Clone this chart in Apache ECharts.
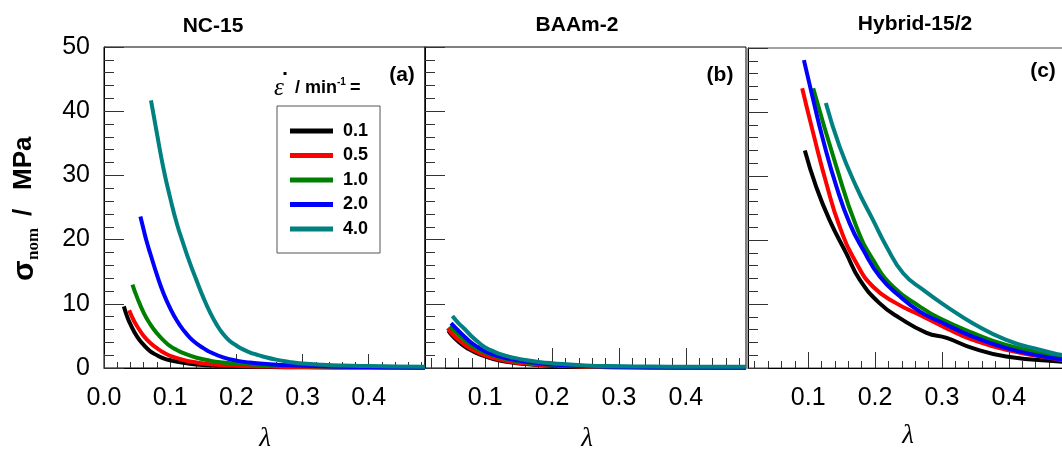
<!DOCTYPE html>
<html>
<head>
<meta charset="utf-8">
<script src="https://cdn.jsdelivr.net/npm/echarts@6/dist/echarts.min.js"></script>
<style>
html,body{margin:0;padding:0;background:#fff;}
#c{width:1062px;height:449px;}
</style>
</head>
<body>
<div id="c"></div>
<script>
// ---------- data ----------
const panelTitles = ['NC-15', 'BAAm-2', 'Hybrid-15/2'];
const panelTags = ['(a)', '(b)', '(c)'];
const rateNames = ['0.1', '0.5', '1.0', '2.0', '4.0'];
const rateColors = ['#000000', '#ff0000', '#008000', '#0000ff', '#008080'];

const xLabelsA = [0.0, 0.1, 0.2, 0.3, 0.4];
const xLabelsBC = [0.1, 0.2, 0.3, 0.4];
const xMinorTicks = [0.02,0.04,0.06,0.08,0.12,0.14,0.16,0.18,0.22,0.24,0.26,0.28,0.32,0.34,0.36,0.38,0.42,0.44,0.46,0.48];

// NC-15 (a)
const nc15_01 = [[0.030,9.6],[0.035,8.0],[0.04,6.8],[0.05,4.9],[0.06,3.6],[0.07,2.6],[0.08,2.0],[0.09,1.5],[0.10,1.2],[0.12,0.8],[0.14,0.55],[0.17,0.35],[0.20,0.25],[0.25,0.15],[0.30,0.1],[0.40,0.06],[0.485,0.04]];
const nc15_05 = [[0.038,9.0],[0.045,7.4],[0.05,6.5],[0.06,5.0],[0.07,3.9],[0.08,3.1],[0.09,2.4],[0.10,1.9],[0.12,1.25],[0.14,0.85],[0.16,0.6],[0.20,0.35],[0.25,0.22],[0.30,0.15],[0.40,0.1],[0.485,0.07]];
const nc15_10 = [[0.043,13.0],[0.05,11.0],[0.06,8.6],[0.07,6.8],[0.08,5.4],[0.09,4.3],[0.10,3.4],[0.11,2.8],[0.12,2.3],[0.14,1.6],[0.16,1.15],[0.18,0.85],[0.20,0.65],[0.24,0.45],[0.28,0.33],[0.33,0.25],[0.40,0.18],[0.485,0.12]];
const nc15_20 = [[0.055,23.6],[0.06,21.5],[0.065,19.5],[0.07,17.8],[0.08,14.5],[0.09,11.6],[0.10,9.3],[0.11,7.4],[0.12,5.9],[0.13,4.7],[0.14,3.8],[0.15,3.1],[0.16,2.5],[0.18,1.65],[0.20,1.15],[0.22,0.85],[0.25,0.6],[0.28,0.42],[0.32,0.3],[0.36,0.2],[0.40,0.15],[0.45,0.1],[0.485,0.08]];
const nc15_40 = [[0.071,41.7],[0.08,36.5],[0.09,31.0],[0.10,26.5],[0.11,22.5],[0.12,19.3],[0.13,16.3],[0.14,13.6],[0.15,11.0],[0.16,8.7],[0.17,6.8],[0.18,5.3],[0.19,4.2],[0.20,3.5],[0.21,2.9],[0.22,2.45],[0.23,2.1],[0.24,1.8],[0.26,1.3],[0.28,0.95],[0.30,0.7],[0.33,0.5],[0.36,0.38],[0.40,0.3],[0.44,0.25],[0.485,0.2]];

// BAAm-2 (b)
const baam_01 = [[0.045,5.8],[0.05,5.1],[0.06,4.1],[0.07,3.3],[0.08,2.7],[0.09,2.2],[0.10,1.8],[0.12,1.2],[0.14,0.85],[0.16,0.62],[0.18,0.45],[0.20,0.33],[0.25,0.18],[0.30,0.1],[0.40,0.05],[0.49,0.03]];
const baam_05 = [[0.044,6.2],[0.05,5.4],[0.06,4.4],[0.07,3.6],[0.08,2.9],[0.09,2.4],[0.10,1.95],[0.12,1.35],[0.14,0.95],[0.16,0.7],[0.18,0.5],[0.20,0.38],[0.25,0.2],[0.30,0.12],[0.40,0.06],[0.49,0.04]];
const baam_10 = [[0.047,6.5],[0.06,5.2],[0.07,4.3],[0.08,3.5],[0.09,2.9],[0.10,2.4],[0.12,1.7],[0.14,1.2],[0.16,0.9],[0.18,0.65],[0.20,0.5],[0.25,0.28],[0.30,0.16],[0.40,0.08],[0.49,0.06]];
const baam_20 = [[0.049,7.0],[0.06,5.8],[0.07,4.8],[0.08,3.9],[0.09,3.2],[0.10,2.6],[0.12,1.85],[0.14,1.35],[0.16,1.0],[0.18,0.75],[0.20,0.55],[0.25,0.3],[0.30,0.18],[0.40,0.1],[0.49,0.08]];
const baam_40 = [[0.051,8.1],[0.06,7.0],[0.07,6.0],[0.08,4.9],[0.09,4.0],[0.10,3.2],[0.11,2.7],[0.12,2.25],[0.14,1.65],[0.16,1.25],[0.18,0.95],[0.20,0.75],[0.25,0.4],[0.30,0.28],[0.35,0.22],[0.40,0.2],[0.49,0.18]];

// Hybrid-15/2 (c)
const hyb_01 = [[0.095,34.0],[0.112,28.3],[0.132,23.1],[0.157,17.9],[0.177,13.8],[0.207,10.1],[0.237,7.8],[0.277,5.5],[0.307,4.7],[0.346,3.1],[0.396,1.8],[0.476,1.0],[0.49,0.9]];
const hyb_05 = [[0.091,43.7],[0.1075,36.7],[0.127,28.9],[0.147,22.1],[0.172,16.4],[0.197,12.7],[0.232,10.1],[0.267,8.3],[0.307,6.2],[0.346,4.4],[0.396,2.85],[0.476,1.3],[0.49,1.15]];
const hyb_10 = [[0.1075,43.7],[0.142,31.5],[0.172,22.1],[0.197,16.9],[0.227,12.7],[0.267,9.6],[0.296,7.8],[0.346,5.5],[0.396,3.6],[0.476,1.8],[0.49,1.6]];
const hyb_20 = [[0.0936,48.1],[0.1075,41.9],[0.1224,35.6],[0.1424,28.3],[0.162,22.6],[0.182,18.5],[0.207,14.3],[0.237,11.2],[0.267,8.8],[0.296,7.3],[0.346,4.9],[0.396,3.1],[0.446,1.9],[0.476,1.4],[0.49,1.25]];
const hyb_40 = [[0.1264,41.4],[0.147,34.6],[0.172,28.3],[0.197,23.1],[0.217,19.0],[0.242,14.8],[0.272,12.2],[0.307,9.6],[0.346,7.0],[0.396,4.4],[0.446,2.85],[0.476,2.1],[0.49,1.9]];

const panelData = [
  [nc15_01, nc15_05, nc15_10, nc15_20, nc15_40],
  [baam_01, baam_05, baam_10, baam_20, baam_40],
  [hyb_01, hyb_05, hyb_10, hyb_20, hyb_40]
];

// ---------- layout / styles ----------
const SANS = "'Liberation Sans', Arial, sans-serif";
const SERIF = "'Liberation Serif', 'Times New Roman', serif";
const grids = [
  {left:104, top:47, width:321, height:321, borderColor:'#000'},
  {left:425, top:47, width:321, height:321, borderColor:'#000'},
  {left:748, top:48, width:321, height:320, borderColor:'#444'}
];
const xRanges = [[0, 0.485], [0.01, 0.49], [0.01, 0.49]];
const xMajorLen = [14, 20, 16];
const xMinorLen = [6, 10, 7];
const tickColor = '#333';

const option = {
  backgroundColor: '#fff',
  animation: false,
  grid: grids.map(g => ({left:g.left, top:g.top, width:g.width, height:g.height, show:true,
    borderColor:g.borderColor, borderWidth:1, backgroundColor:'transparent', outerBoundsMode:'none'})),
  xAxis: [],
  yAxis: [],
  series: [],
  legend: {
    show: true,
    orient: 'vertical',
    left: 277, top: 106,
    data: rateNames,
    selectedMode: false,
    icon: 'rect',
    itemWidth: 43, itemHeight: 5,
    itemGap: 4.5,
    padding: [15, 12, 14, 13],
    borderColor: '#555', borderWidth: 1,
    textStyle: {fontFamily: SANS, fontWeight: 'bold', fontSize: 18, color: '#000', lineHeight: 20, padding: [0,0,0,5]}
  },
  graphic: []
};

for (let i = 0; i < 3; i++) {
  const labels = i === 0 ? xLabelsA : xLabelsBC;
  option.xAxis.push({
    type:'value', gridIndex:i, min:xRanges[i][0], max:xRanges[i][1],
    axisLine:{show:true, onZero:false, lineStyle:{color:'#000', width:1}},
    splitLine:{show:false},
    axisTick:{show:true, inside:true, length:xMajorLen[i], customValues:labels, lineStyle:{color:tickColor}},
    axisLabel:{show:true, customValues:labels, formatter:v => v.toFixed(1), fontFamily:SANS, fontSize:25, color:'#000', margin:18}
  });
  option.xAxis.push({
    type:'value', gridIndex:i, min:xRanges[i][0], max:xRanges[i][1], position:'bottom',
    axisLine:{show:false}, splitLine:{show:false}, axisLabel:{show:false},
    axisTick:{show:true, inside:true, length:xMinorLen[i], customValues:xMinorTicks, lineStyle:{color:tickColor}}
  });
  option.yAxis.push({
    type:'value', gridIndex:i, min:0, max:50, interval:10,
    axisLine:{show:true, onZero:false, lineStyle:{color:'#000', width:1}},
    splitLine:{show:false},
    axisTick:{show:true, inside:true, length:20, lineStyle:{color:tickColor}},
    minorTick:{show:true, splitNumber:5, length:10, lineStyle:{color:tickColor}},
    axisLabel:{show:i === 0, fontFamily:SANS, fontSize:25, color:'#000', margin:14}
  });
  for (let s = 0; s < 5; s++) {
    option.series.push({
      type:'line', name:rateNames[s], xAxisIndex:i*2, yAxisIndex:i,
      data:panelData[i][s], showSymbol:false, symbol:'none',
      smooth:0.5,
      color:rateColors[s],
      lineStyle:{color:rateColors[s], width:4, join:'round', cap:'butt'},
      z:2+s, silent:true
    });
  }
}

// titles, tags, axis names
const titlePos = [[213,26],[577,25],[915,24]];
const tagPos = [[402,75],[720,75],[1043,71]];
const lamPos = [[265,439],[587,439],[908,436]];
for (let i = 0; i < 3; i++) {
  option.graphic.push({type:'text', x:titlePos[i][0], y:titlePos[i][1],
    style:{text:panelTitles[i], font:"bold 21px " + SANS, fill:'#000', align:'center', verticalAlign:'middle'}});
  option.graphic.push({type:'text', x:tagPos[i][0], y:tagPos[i][1],
    style:{text:panelTags[i], font:"bold 21px " + SANS, fill:'#000', align:'center', verticalAlign:'middle'}});
  option.graphic.push({type:'text', x:lamPos[i][0], y:lamPos[i][1],
    style:{text:'λ', font:"italic 27px " + SERIF, fill:'#000', align:'center', verticalAlign:'middle'}});
}

// y axis title (rotated)
option.graphic.push({
  type:'group', x:33, y:208, rotation:Math.PI/2,
  children:[
    {type:'text', x:-73, y:-8, style:{text:'σ', font:"bold 30px " + SANS, fill:'#000', align:'left', verticalAlign:'middle'}},
    {type:'text', x:-52, y:1, style:{text:'nom', font:"bold 17px " + SERIF, fill:'#000', align:'left', verticalAlign:'middle'}},
    {type:'text', x:-8, y:-9, style:{text:'/', font:"bold 26px " + SANS, fill:'#000', align:'left', verticalAlign:'middle'}},
    {type:'text', x:18, y:-9, style:{text:'MPa', font:"bold 26px " + SANS, fill:'#000', align:'left', verticalAlign:'middle'}}
  ]
});

// legend title: ε̇ / min^-1 =
option.graphic.push({type:'text', x:274, y:88, style:{text:'ε', font:"italic 25px " + SERIF, fill:'#000', align:'left', verticalAlign:'middle'}});
option.graphic.push({type:'rect', shape:{x:283.5, y:72, width:3, height:3}, style:{fill:'#000'}});
option.graphic.push({type:'text', x:295, y:88, style:{text:'/ min', font:"bold 18px " + SANS, fill:'#000', align:'left', verticalAlign:'middle'}});
option.graphic.push({type:'text', x:337, y:82, style:{text:'-1', font:"bold 10px " + SANS, fill:'#000', align:'left', verticalAlign:'middle'}});
option.graphic.push({type:'text', x:350, y:88, style:{text:'=', font:"bold 18px " + SANS, fill:'#000', align:'left', verticalAlign:'middle'}});

const chart = echarts.init(document.getElementById('c'), null, {renderer:'canvas', width:1062, height:449});
chart.setOption(option);
</script>
</body>
</html>
